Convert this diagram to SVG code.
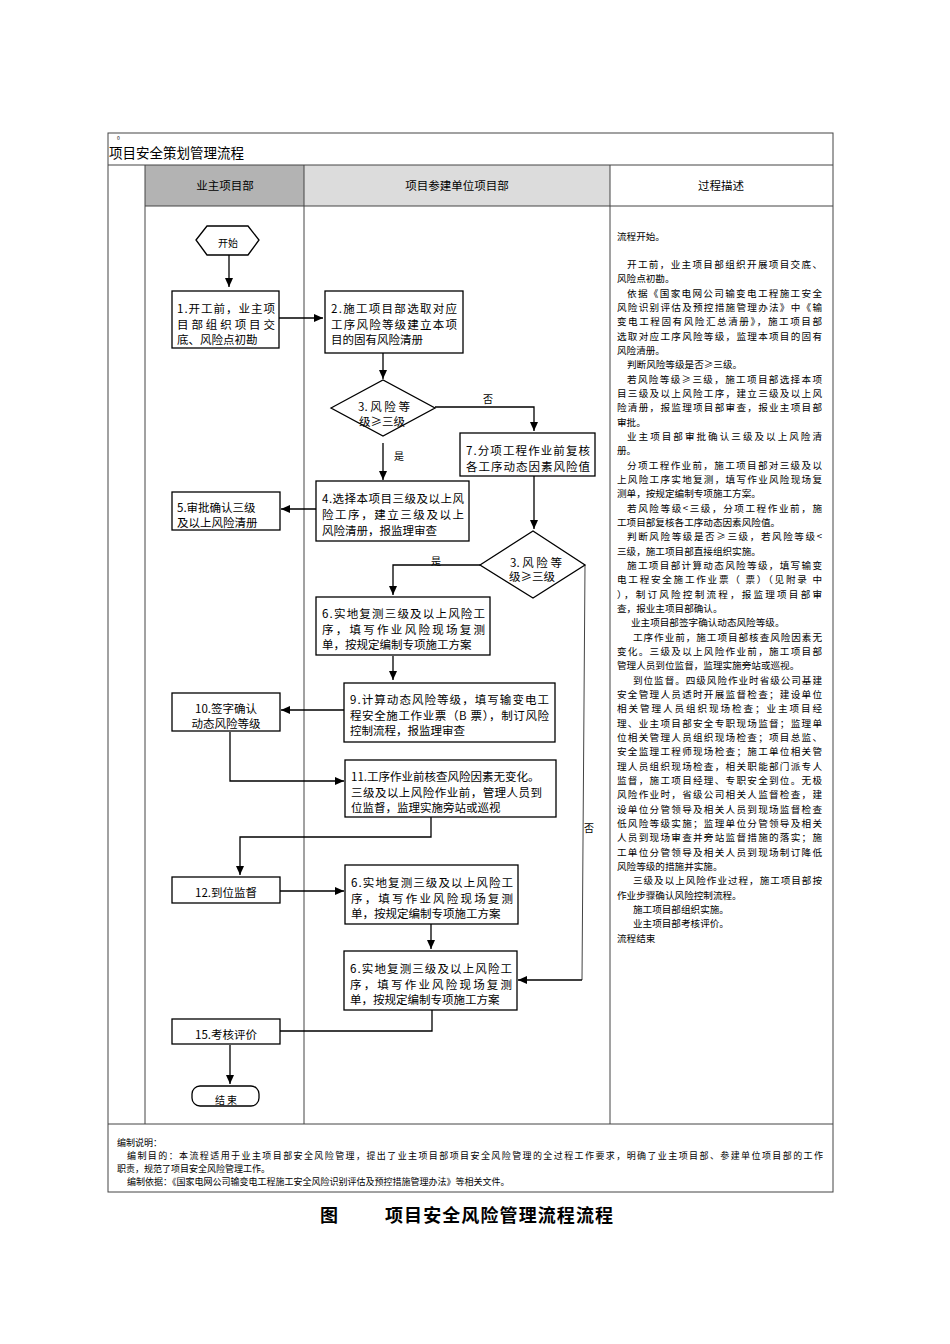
<svg xmlns="http://www.w3.org/2000/svg" width="950" height="1344" viewBox="0 0 950 1344">
<style>
text{font-family:"Noto Sans CJK SC","Liberation Sans",sans-serif;fill:#000}
.b{fill:#fff;stroke:#000;stroke-width:1.3}
.t{font-size:11.5px}
.d{font-size:9.6px}
.c{stroke:#000;stroke-width:1.3;fill:none}
.g{stroke:#444;stroke-width:1;fill:none}
.l{font-size:10px}
</style>
<defs><marker id="a" markerWidth="10" markerHeight="10" refX="9" refY="5" orient="auto" markerUnits="userSpaceOnUse"><path d="M0,1 L9,5 L0,9 Z" fill="#000"/></marker></defs>
<rect x="0" y="0" width="950" height="1344" fill="#fff"/>
<g id="table">
<rect x="145" y="165" width="159" height="41" fill="#b3b3b3"/>
<rect x="304" y="165" width="306" height="41" fill="#dcdcdc"/>
<rect x="108" y="133" width="725" height="1059" class="g"/>
<line x1="108" y1="165" x2="833" y2="165" class="g"/>
<line x1="145" y1="206" x2="833" y2="206" class="g"/>
<line x1="108" y1="1124" x2="833" y2="1124" class="g"/>
<line x1="145" y1="165" x2="145" y2="1124" class="g"/>
<line x1="304" y1="165" x2="304" y2="1124" class="g"/>
<line x1="610" y1="165" x2="610" y2="1124" class="g"/>
<text x="117" y="140" font-size="5" fill="#999">0</text>
<text x="109" y="158" font-size="13.5">项目安全策划管理流程</text>
<text x="225" y="190" font-size="11.5" text-anchor="middle">业主项目部</text>
<text x="457" y="190" font-size="11.5" text-anchor="middle">项目参建单位项目部</text>
<text x="721" y="190" font-size="11.5" text-anchor="middle">过程描述</text>
</g>
<g id="connectors">
<path class="c" d="M229,255 V287" marker-end="url(#a)"/>
<path class="c" d="M279,318 H323" marker-end="url(#a)"/>
<path class="c" d="M383,353 V379" marker-end="url(#a)"/>
<path class="c" d="M435,407 H534 V431" marker-end="url(#a)"/>
<text x="483" y="403" class="l">否</text>
<path class="c" d="M383,443 V480" marker-end="url(#a)"/>
<text x="394" y="460" class="l">是</text>
<path class="c" d="M534,476 V529" marker-end="url(#a)"/>
<path class="c" d="M316,509 H281" marker-end="url(#a)"/>
<path class="c" d="M480,565 H393 V595" marker-end="url(#a)"/>
<text x="431" y="565" class="l">是</text>
<path class="g" d="M585,565 L582,980" />
<path class="c" d="M582,980 H518" marker-end="url(#a)"/>
<text x="584" y="832" class="l">否</text>
<path class="c" d="M393,656 V680" marker-end="url(#a)"/>
<path class="c" d="M344,710 H281" marker-end="url(#a)"/>
<path class="c" d="M230,732 V781 H344" marker-end="url(#a)"/>
<path class="c" d="M431,817 V837 H240 V875" marker-end="url(#a)"/>
<path class="c" d="M280,891 H344" marker-end="url(#a)"/>
<path class="c" d="M431,924 V949" marker-end="url(#a)"/>
<path class="c" d="M432,1010 V1031 H280"/>
<path class="c" d="M230,1045 V1084" marker-end="url(#a)"/>
</g>
<g id="start"><polygon class="b" points="196,240 207,226 248,226 259,240 248,255 207,255"/><text x="228" y="247" class="l" text-anchor="middle">开始</text></g>
<g id="n1"><rect class="b" x="172" y="291" width="107" height="57"/>
<text class="t" x="177" y="313" textLength="98">1.开工前，业主项</text><text class="t" x="177" y="329" textLength="98">目部组织项目交</text><text class="t" x="177" y="344">底、风险点初勘</text></g>
<g id="n2"><rect class="b" x="325" y="291" width="138" height="62"/>
<text class="t" x="331" y="313" textLength="126">2.施工项目部选取对应</text><text class="t" x="331" y="329" textLength="126">工序风险等级建立本项</text><text class="t" x="331" y="344">目的固有风险清册</text></g>
<g id="n3"><polygon class="b" points="331,408 383,380 435,408 383,436"/><text class="t" x="384" y="411" text-anchor="middle">3. 风 险 等</text><text class="t" x="382" y="426" text-anchor="middle">级≥三级</text></g>
<g id="n7"><rect class="b" x="460" y="433" width="135" height="43"/>
<text class="t" x="466" y="455" textLength="124">7.分项工程作业前复核</text><text class="t" x="466" y="471" textLength="124">各工序动态因素风险值</text></g>
<g id="n4"><rect class="b" x="316" y="481" width="153" height="60"/>
<text class="t" x="322" y="503" textLength="142">4.选择本项目三级及以上风</text><text class="t" x="322" y="519" textLength="142">险工序，建立三级及以上</text><text class="t" x="322" y="535">风险清册，报监理审查</text></g>
<g id="n5"><rect class="b" x="172" y="492" width="108" height="38"/>
<text class="t" x="177" y="512">5.审批确认三级</text><text class="t" x="177" y="527">及以上风险清册</text></g>
<g id="n3b"><polygon class="b" points="480,565 533,531 585,565 533,598"/><text class="t" x="536" y="567" text-anchor="middle">3. 风 险 等</text><text class="t" x="532" y="581" text-anchor="middle">级≥三级</text></g>
<g id="n6a"><rect class="b" x="316" y="597" width="174" height="58"/>
<text class="t" x="322" y="618" textLength="163">6.实地复测三级及以上风险工</text><text class="t" x="322" y="634" textLength="163">序，填写作业风险现场复测</text><text class="t" x="322" y="649">单，按规定编制专项施工方案</text></g>
<g id="n9"><rect class="b" x="344" y="683" width="211" height="59"/>
<text class="t" x="350" y="704" textLength="199">9.计算动态风险等级，填写输变电工</text><text class="t" x="350" y="720" textLength="199">程安全施工作业票（B 票），制订风险</text><text class="t" x="350" y="735">控制流程，报监理审查</text></g>
<g id="n10"><rect class="b" x="172" y="693" width="108" height="38"/>
<text class="t" x="226" y="713" text-anchor="middle">10.签字确认</text><text class="t" x="226" y="728" text-anchor="middle">动态风险等级</text></g>
<g id="n11"><rect class="b" x="345" y="760" width="211" height="57"/>
<text class="t" x="351" y="781">11.工序作业前核查风险因素无变化。</text><text class="t" x="351" y="797" textLength="191">三级及以上风险作业前，管理人员到</text><text class="t" x="351" y="812">位监督，监理实施旁站或巡视</text></g>
<g id="n12"><rect class="b" x="172" y="877" width="108" height="26"/><text class="t" x="226" y="897" text-anchor="middle">12.到位监督</text></g>
<g id="n6b"><rect class="b" x="345" y="865" width="173" height="59"/>
<text class="t" x="351" y="887" textLength="162">6.实地复测三级及以上风险工</text><text class="t" x="351" y="903" textLength="162">序，填写作业风险现场复测</text><text class="t" x="351" y="918">单，按规定编制专项施工方案</text></g>
<g id="n6c"><rect class="b" x="344" y="951" width="173" height="59"/>
<text class="t" x="350" y="973" textLength="162">6.实地复测三级及以上风险工</text><text class="t" x="350" y="989" textLength="162">序，填写作业风险现场复测</text><text class="t" x="350" y="1004">单，按规定编制专项施工方案</text></g>
<g id="n15"><rect class="b" x="172" y="1019" width="108" height="25"/><text class="t" x="226" y="1039" text-anchor="middle">15.考核评价</text></g>
<g id="end"><rect class="b" x="192" y="1086" width="67" height="20" rx="8"/><text class="l" x="226" y="1104" text-anchor="middle">结 束</text></g>
<g id="desc" class="d">
<text x="617" y="240">流程开始。</text>
<text x="627" y="268" textLength="195">开工前，业主项目部组织开展项目交底、</text>
<text x="617" y="282">风险点初勘。</text>
<text x="627" y="297" textLength="195">依据《国家电网公司输变电工程施工安全</text>
<text x="617" y="311" textLength="205">风险识别评估及预控措施管理办法》中《输</text>
<text x="617" y="325" textLength="205">变电工程固有风险汇总清册》，施工项目部</text>
<text x="617" y="340" textLength="205">选取对应工序风险等级，监理本项目的固有</text>
<text x="617" y="354">风险清册。</text>
<text x="627" y="368">判断风险等级是否≥三级。</text>
<text x="627" y="383" textLength="195">若风险等级≥三级，施工项目部选择本项</text>
<text x="617" y="397" textLength="205">目三级及以上风险工序，建立三级及以上风</text>
<text x="617" y="411" textLength="205">险清册，报监理项目部审查，报业主项目部</text>
<text x="617" y="426">审批。</text>
<text x="627" y="440" textLength="195">业主项目部审批确认三级及以上风险清</text>
<text x="617" y="454">册。</text>
<text x="627" y="469" textLength="195">分项工程作业前，施工项目部对三级及以</text>
<text x="617" y="483" textLength="205">上风险工序实地复测，填写作业风险现场复</text>
<text x="617" y="497">测单，按规定编制专项施工方案。</text>
<text x="627" y="512" textLength="195">若风险等级&lt;三级，分项工程作业前，施</text>
<text x="617" y="526">工项目部复核各工序动态因素风险值。</text>
<text x="627" y="540" textLength="195">判断风险等级是否≥三级，若风险等级&lt;</text>
<text x="617" y="555">三级，施工项目部直接组织实施。</text>
<text x="627" y="569" textLength="195">施工项目部计算动态风险等级，填写输变</text>
<text x="617" y="583" textLength="205">电工程安全施工作业票（ 票）（见附录 中</text>
<text x="617" y="598" textLength="205">  ），制订风险控制流程，报监理项目部审</text>
<text x="617" y="612">查，报业主项目部确认。</text>
<text x="631" y="626">业主项目部签字确认动态风险等级。</text>
<text x="633" y="641" textLength="189">工序作业前，施工项目部核查风险因素无</text>
<text x="617" y="655" textLength="205">变化。三级及以上风险作业前，施工项目部</text>
<text x="617" y="669">管理人员到位监督，监理实施旁站或巡视。</text>
<text x="633" y="684" textLength="189">到位监督。四级风险作业时省级公司基建</text>
<text x="617" y="698" textLength="205">安全管理人员适时开展监督检查；建设单位</text>
<text x="617" y="712" textLength="205">相关管理人员组织现场检查；业主项目经</text>
<text x="617" y="727" textLength="205">理、业主项目部安全专职现场监督；监理单</text>
<text x="617" y="741" textLength="205">位相关管理人员组织现场检查；项目总监、</text>
<text x="617" y="755" textLength="205">安全监理工程师现场检查；施工单位相关管</text>
<text x="617" y="770" textLength="205">理人员组织现场检查，相关职能部门派专人</text>
<text x="617" y="784" textLength="205">监督，施工项目经理、专职安全到位。无极</text>
<text x="617" y="798" textLength="205">风险作业时，省级公司相关人监督检查，建</text>
<text x="617" y="813" textLength="205">设单位分管领导及相关人员到现场监督检查</text>
<text x="617" y="827" textLength="205">低风险等级实施；监理单位分管领导及相关</text>
<text x="617" y="841" textLength="205">人员到现场审查并旁站监督措施的落实；施</text>
<text x="617" y="856" textLength="205">工单位分管领导及相关人员到现场制订降低</text>
<text x="617" y="870">风险等级的措施并实施。</text>
<text x="633" y="884" textLength="189">三级及以上风险作业过程，施工项目部按</text>
<text x="617" y="899">作业步骤确认风险控制流程。</text>
<text x="633" y="913">施工项目部组织实施。</text>
<text x="633" y="927">业主项目部考核评价。</text>
<text x="617" y="942">流程结束</text>
</g>
<g id="notes" font-size="9">
<text x="117" y="1146">编制说明：</text>
<text x="127" y="1159" textLength="696">编制目的：本流程适用于业主项目部安全风险管理，提出了业主项目部项目安全风险管理的全过程工作要求，明确了业主项目部、参建单位项目部的工作</text>
<text x="117" y="1172">职责，规范了项目安全风险管理工作。</text>
<text x="127" y="1185">编制依据：《国家电网公司输变电工程施工安全风险识别评估及预控措施管理办法》等相关文件。</text>
</g>
<text x="320" y="1222" font-size="18" font-weight="bold">图</text>
<text x="385" y="1222" font-size="18" font-weight="bold" textLength="228">项目安全风险管理流程流程</text>
</svg>
